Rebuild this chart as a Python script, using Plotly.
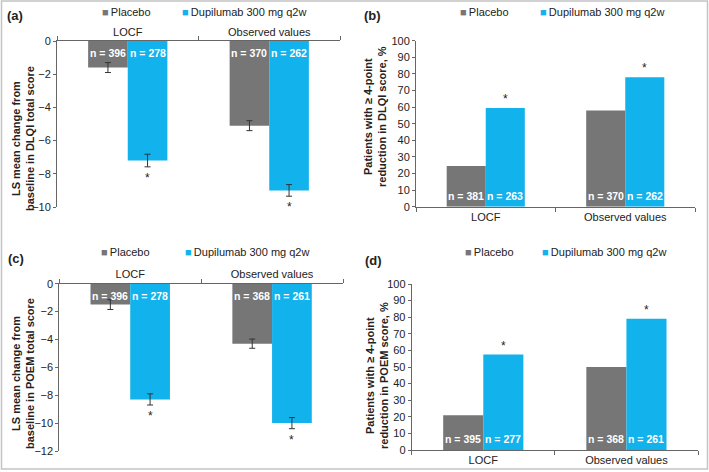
import plotly.graph_objects as go

# ---- data ----
categories = ["LOCF", "Observed values"]

# (a) LS mean change in DLQI total score
dlqi_change_placebo = [-1.6, -5.1]
dlqi_change_dupi = [-7.2, -9.0]
dlqi_change_err_placebo = [0.3, 0.3]
dlqi_change_err_dupi = [0.38, 0.35]
dlqi_change_n_placebo = [396, 370]
dlqi_change_n_dupi = [278, 262]

# (b) patients with >= 4-point DLQI reduction, %
dlqi_resp_placebo = [24.5, 58.0]
dlqi_resp_dupi = [59.5, 78.0]
dlqi_resp_n_placebo = [381, 370]
dlqi_resp_n_dupi = [263, 262]

# (c) LS mean change in POEM total score
poem_change_placebo = [-1.5, -4.3]
poem_change_dupi = [-8.3, -10.0]
poem_change_err_placebo = [0.35, 0.33]
poem_change_err_dupi = [0.4, 0.4]
poem_change_n_placebo = [396, 368]
poem_change_n_dupi = [278, 261]

# (d) patients with >= 4-point POEM reduction, %
poem_resp_placebo = [21.0, 50.0]
poem_resp_dupi = [57.5, 79.0]
poem_resp_n_placebo = [395, 368]
poem_resp_n_dupi = [277, 261]

change_ticks = {"a": [0, -2, -4, -6, -8, -10], "c": [0, -2, -4, -6, -8, -10, -12]}
resp_ticks = [0, 10, 20, 30, 40, 50, 60, 70, 80, 90, 100]

# ---- style ----
W, H = 709, 472
GREY = "#767676"
BLUE = "#12B2EC"
AXIS = "#666666"
TEXT = "#222222"
FONT = "Liberation Sans, Arial, Helvetica, sans-serif"
BARGAP = 0.44
OFF = (1 - BARGAP) / 4  # centre offset of each bar in category units


def px(x):
    return x / W


def py(y):
    return 1 - y / H


panels = [
    dict(key="a", ax="", xd=[57, 340], yd=[41, 207], rng=[-10, 0], ticks=change_ticks["a"],
         plc=dlqi_change_placebo, dup=dlqi_change_dupi,
         eplc=dlqi_change_err_placebo, edup=dlqi_change_err_dupi,
         nplc=dlqi_change_n_placebo, ndup=dlqi_change_n_dupi,
         title="LS mean change from<br>baseline in DLQI total score",
         tpos=(23, 139), lpos=(14.5, 15), leg=(100, 180, 12)),
    dict(key="b", ax="2", xd=[416, 695], yd=[40.7, 206.7], rng=[0, 100], ticks=resp_ticks,
         plc=dlqi_resp_placebo, dup=dlqi_resp_dupi, eplc=None, edup=None,
         nplc=dlqi_resp_n_placebo, ndup=dlqi_resp_n_dupi,
         title="Patients with \u2265 4-point<br>reduction in DLQI score, %",
         tpos=(375, 116), lpos=(372, 15), leg=(458, 538, 12)),
    dict(key="c", ax="3", xd=[59.3, 343], yd=[283.7, 451], rng=[-12, 0], ticks=change_ticks["c"],
         plc=poem_change_placebo, dup=poem_change_dupi,
         eplc=poem_change_err_placebo, edup=poem_change_err_dupi,
         nplc=poem_change_n_placebo, ndup=poem_change_n_dupi,
         title="LS mean change from<br>baseline in POEM total score",
         tpos=(23, 374), lpos=(15.5, 258), leg=(99, 183, 252)),
    dict(key="d", ax="4", xd=[411.7, 698], yd=[284, 450], rng=[0, 100], ticks=resp_ticks,
         plc=poem_resp_placebo, dup=poem_resp_dupi, eplc=None, edup=None,
         nplc=poem_resp_n_placebo, ndup=poem_resp_n_dupi,
         title="Patients with \u2265 4-point<br>reduction in POEM score, %",
         tpos=(377, 375), lpos=(374, 260), leg=(463, 540, 252)),
]

fig = go.Figure()
annotations = []
layout_axes = {}

for p in panels:
    xa, ya = "x" + p["ax"], "y" + p["ax"]
    negative = p["rng"][1] == 0
    for name, vals, err, color in [
        ("Placebo", p["plc"], p["eplc"], GREY),
        ("Dupilumab 300 mg q2w", p["dup"], p["edup"], BLUE),
    ]:
        fig.add_trace(go.Bar(
            x=categories, y=vals, name=name, xaxis=xa, yaxis=ya,
            marker=dict(color=color, line=dict(width=0)),
            error_y=dict(type="data", array=err, color="#333333", thickness=1, width=3,
                         visible=err is not None),
            showlegend=False, hoverinfo="y",
        ))

    # n labels inside bars
    for i in range(len(categories)):
        for dx, n in [(-OFF, p["nplc"][i]), (OFF, p["ndup"][i])]:
            annotations.append(dict(
                x=i + dx, y=0, xref=xa, yref=ya, text=f"<b>n = {n}</b>", showarrow=False,
                yanchor="top" if negative else "bottom", yshift=-4 if negative else 3,
                font=dict(size=10.5, color="white", family=FONT),
            ))
        # significance stars on dupilumab bars
        if negative:
            annotations.append(dict(
                x=i + OFF, y=p["dup"][i] - p["edup"][i], xref=xa, yref=ya, text="*",
                showarrow=False, yanchor="top", yshift=-2,
                font=dict(size=12, color=TEXT, family=FONT),
            ))
        else:
            annotations.append(dict(
                x=i + OFF, y=p["dup"][i], xref=xa, yref=ya, text="*",
                showarrow=False, yanchor="bottom", yshift=0,
                font=dict(size=12, color=TEXT, family=FONT),
            ))

    layout_axes["xaxis" + p["ax"]] = dict(
        domain=[px(p["xd"][0]), px(p["xd"][1])], anchor=ya,
        side="top" if negative else "bottom",
        showline=True, linecolor=AXIS, linewidth=1, showgrid=False, zeroline=False,
        ticks="outside", tickson="boundaries", ticklen=4, tickcolor=AXIS,
        tickfont=dict(size=11, color=TEXT, family=FONT), fixedrange=True,
    )
    layout_axes["yaxis" + p["ax"]] = dict(
        domain=[py(p["yd"][1]), py(p["yd"][0])], anchor=xa, range=p["rng"],
        tickvals=p["ticks"], showline=True, linecolor=AXIS, linewidth=1,
        showgrid=False, zeroline=False, ticks="outside", ticklen=3, tickcolor=AXIS,
        tickfont=dict(size=11, color=TEXT, family=FONT), fixedrange=True,
    )

    # axis title
    annotations.append(dict(
        x=px(p["tpos"][0]), y=py(p["tpos"][1]), xref="paper", yref="paper",
        text=f"<b>{p['title']}</b>", textangle=-90, showarrow=False,
        xanchor="center", yanchor="middle",
        font=dict(size=11, color=TEXT, family=FONT),
    ))
    # panel label
    annotations.append(dict(
        x=px(p["lpos"][0]), y=py(p["lpos"][1]), xref="paper", yref="paper",
        text=f"<b>({p['key']})</b>", showarrow=False, xanchor="center", yanchor="middle",
        font=dict(size=13, color=TEXT, family=FONT),
    ))
    # legend
    gx, bx, ly = p["leg"]
    for lx, color, label in [(gx, GREY, "Placebo"), (bx, BLUE, "Dupilumab 300 mg q2w")]:
        annotations.append(dict(
            x=px(lx), y=py(ly), xref="paper", yref="paper",
            text=f"<span style='color:{color}'>\u25a0</span>\u2009{label}", showarrow=False,
            xanchor="left", yanchor="middle",
            font=dict(size=11, color=TEXT, family=FONT),
        ))

fig.update_layout(
    width=W, height=H,
    margin=dict(l=0, r=0, t=0, b=0, autoexpand=False),
    paper_bgcolor="white", plot_bgcolor="white",
    barmode="group", bargap=BARGAP, bargroupgap=0,
    font=dict(family=FONT, color=TEXT),
    annotations=annotations,
    shapes=[dict(type="rect", xref="paper", yref="paper",
                 x0=px(1.5), x1=px(707.5), y0=py(469), y1=py(1),
                 line=dict(color="#c4c4c4", width=1.5))],
    **layout_axes,
)

# the browser page adds a default body margin; remove it so the figure sits at 0,0
fig.write_html(
    "out.html",
    config={"displayModeBar": False},
    post_script="document.body.style.margin='0';document.body.style.padding='0';",
)
